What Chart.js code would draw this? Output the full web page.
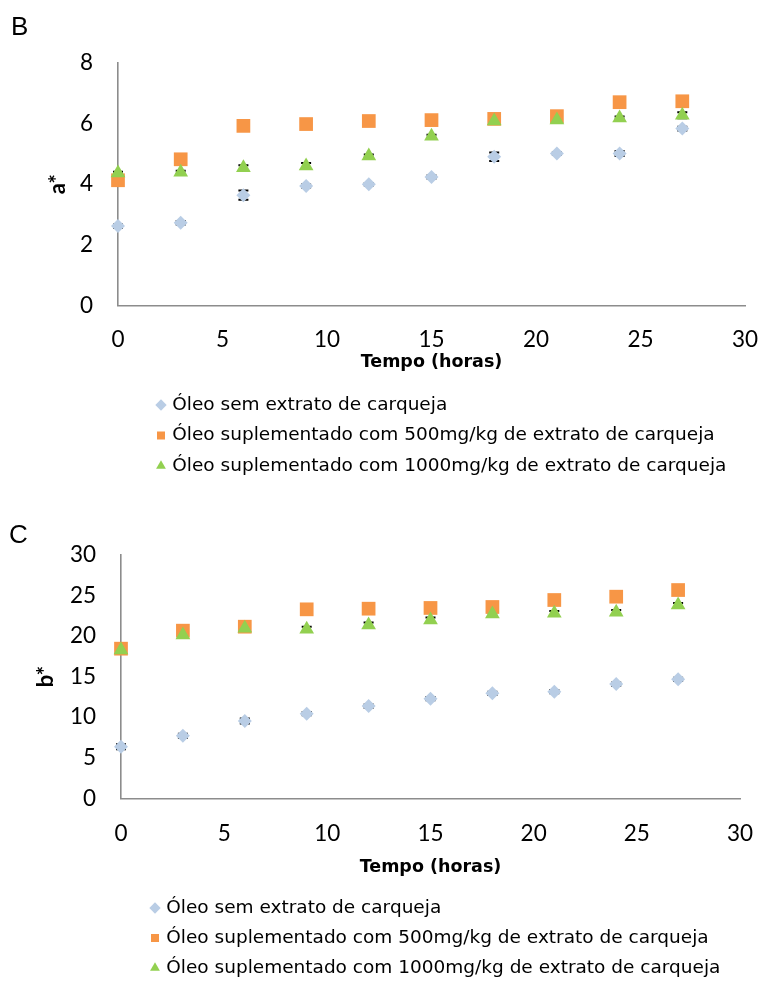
<!DOCTYPE html>
<html>
<head>
<meta charset="utf-8">
<script src="https://cdn.jsdelivr.net/npm/chart.js@4.4.1/dist/chart.umd.min.js"></script>
<style>
  html, body { margin: 0; padding: 0; background: #ffffff; }
  #wrap { position: relative; width: 762px; height: 981px; overflow: hidden; background: #ffffff; }
  canvas { position: absolute; left: 0; }
  #c1 { top: 0; }
  #c2 { top: 478px; }
</style>
</head>
<body>
<div id="wrap">
  <canvas id="c1" width="762" height="490"></canvas>
  <canvas id="c2" width="762" height="503"></canvas>
</div>
<script>
// ---------- data ----------
const hours = [0, 3, 6, 9, 12, 15, 18, 21, 24, 27];
const seriesNames = [
  'Óleo sem extrato de carqueja',
  'Óleo suplementado com 500mg/kg de extrato de carqueja',
  'Óleo suplementado com 1000mg/kg de extrato de carqueja'
];
// Panel B : a*
const aSem   = [2.62, 2.73, 3.64, 3.94, 4.00, 4.24, 4.90, 5.01, 5.01, 5.83];
const a500   = [4.13, 4.82, 5.92, 5.98, 6.08, 6.11, 6.15, 6.24, 6.70, 6.73];
const a1000  = [4.37, 4.39, 4.54, 4.60, 4.93, 5.58, 6.08, 6.11, 6.18, 6.27];
const aSemErr  = [0.05, 0.06, 0.15, 0.05, 0.04, 0.05, 0.14, 0.04, 0.08, 0.06];
const a500Err  = [0.05, 0.05, 0.05, 0.05, 0.05, 0.05, 0.05, 0.05, 0.05, 0.05];
const a1000Err = [0.04, 0.05, 0.08, 0.10, 0.05, 0.05, 0.03, 0.03, 0.05, 0.10];
// Panel C : b*
const bSem   = [6.36, 7.72, 9.53, 10.43, 11.38, 12.28, 12.94, 13.15, 14.09, 14.67];
const b500   = [18.45, 20.67, 21.16, 23.30, 23.38, 23.47, 23.59, 24.45, 24.86, 25.68];
const b1000  = [18.29, 20.14, 20.96, 20.85, 21.37, 21.98, 22.72, 22.81, 22.93, 23.84];
const bSemErr  = [0.30, 0.25, 0.30, 0.20, 0.20, 0.20, 0.20, 0.20, 0.20, 0.20];
const b500Err  = [0.20, 0.20, 0.20, 0.20, 0.20, 0.20, 0.20, 0.20, 0.20, 0.20];
const b1000Err = [0.20, 0.20, 0.25, 0.30, 0.30, 0.30, 0.20, 0.30, 0.30, 0.25];
// ticks
const xTicks = [0, 5, 10, 15, 20, 25, 30];
const aTicks = [0, 2, 4, 6, 8];
const bTicks = [0, 5, 10, 15, 20, 25, 30];

// ---------- styles ----------
const COL_BLUE = '#B9CDE5';
const COL_ORANGE = '#F79646';
const COL_GREEN = '#92D050';
const AXIS_COL = '#8C8C8C';

function pts(ys) { return hours.map((h, i) => ({ x: h, y: ys[i] })); }

// error bars drawn through the chart's scales
const errorBars = {
  id: 'errorBars',
  beforeDatasetsDraw(chart) {
    const ctx = chart.ctx;
    const xs = chart.scales.x, ys = chart.scales.y;
    ctx.save();
    ctx.strokeStyle = '#000000';
    ctx.lineWidth = 2;
    chart.data.datasets.forEach(ds => {
      if (!ds.errors) return;
      ds.data.forEach((p, i) => {
        const e = ds.errors[i];
        const px = xs.getPixelForValue(p.x);
        const y1 = ys.getPixelForValue(p.y + e);
        const y2 = ys.getPixelForValue(p.y - e);
        ctx.beginPath();
        ctx.moveTo(px, y1); ctx.lineTo(px, y2);
        ctx.moveTo(px - 5, y1); ctx.lineTo(px + 5, y1);
        ctx.moveTo(px - 5, y2); ctx.lineTo(px + 5, y2);
        ctx.stroke();
      });
    });
    ctx.restore();
  }
};

// shift the legend block horizontally inside the plot width
const legendOffset = {
  id: 'legendOffset',
  afterLayout(chart, args, opts) {
    if (chart.legend) chart.legend.left += (opts.x || 0);
  }
};

function makeChart(id, cfg) {
  const datasets = [
    { label: seriesNames[0], data: pts(cfg.s0), errors: cfg.e0, pointStyle: 'rectRot', pointRadius: 7,
      backgroundColor: COL_BLUE, pointBackgroundColor: COL_BLUE, borderWidth: 0, pointBorderWidth: 0, order: 2, clip: false },
    { label: seriesNames[1], data: pts(cfg.s1), errors: cfg.e1, pointStyle: 'rect', pointRadius: 9.7,
      backgroundColor: COL_ORANGE, pointBackgroundColor: COL_ORANGE, borderWidth: 0, pointBorderWidth: 0, order: 1, clip: false },
    { label: seriesNames[2], data: pts(cfg.s2), errors: cfg.e2, pointStyle: 'triangle', pointRadius: 8.5,
      backgroundColor: COL_GREEN, pointBackgroundColor: COL_GREEN, borderWidth: 0, pointBorderWidth: 0, order: 0, clip: false }
  ];
  return new Chart(document.getElementById(id), {
    type: 'scatter',
    data: { datasets },
    plugins: [errorBars, legendOffset],
    options: {
      responsive: false,
      animation: false,
      devicePixelRatio: 1,
      events: [],
      layout: { padding: cfg.pad },
      plugins: {
        tooltip: { enabled: false },
        legendOffset: { x: cfg.legendShift },
        title: {
          display: true,
          text: cfg.panel,
          align: 'start',
          color: '#000000',
          font: { family: 'Liberation Sans, Arial, sans-serif', size: 26, weight: 'normal', lineHeight: 1.2 },
          padding: cfg.panelPad
        },
        legend: {
          display: true,
          position: 'bottom',
          align: 'start',
          fullSize: false,
          maxHeight: cfg.legendMaxH,
          labels: {
            usePointStyle: true,
            boxWidth: 4,
            boxHeight: 8,
            padding: cfg.legendPad,
            color: '#000000',
            font: { family: 'DejaVu Sans, sans-serif', size: 18.5, lineHeight: 1.2 },
            sort: (a, b) => a.datasetIndex - b.datasetIndex
          }
        }
      },
      scales: {
        x: {
          type: 'linear',
          min: 0, max: 30,
          afterBuildTicks: s => { s.ticks = xTicks.map(v => ({ value: v })); },
          afterFit: s => { s.height = cfg.xHeight; s.paddingLeft = 0; s.paddingRight = 0; },
          grid: { display: false, drawTicks: false },
          border: { display: true, color: AXIS_COL, width: 1.6 },
          ticks: {
            color: '#000000',
            padding: cfg.xTickPad,
            maxRotation: 0,
            autoSkip: false,
            font: { family: 'Lato, sans-serif', size: 22.5, lineHeight: 1.0 }
          },
          title: {
            display: true,
            text: 'Tempo (horas)',
            color: '#000000',
            font: { family: 'DejaVu Sans, sans-serif', size: 17.5, weight: 'bold', lineHeight: 1.2 },
            padding: cfg.xTitlePad
          }
        },
        y: {
          type: 'linear',
          min: cfg.yTicks[0], max: cfg.yTicks[cfg.yTicks.length - 1],
          afterBuildTicks: s => { s.ticks = cfg.yTicks.map(v => ({ value: v })); },
          afterFit: s => { s.width = cfg.yWidth; },
          grid: { display: false, drawTicks: false },
          border: { display: true, color: AXIS_COL, width: 1.6 },
          ticks: {
            color: '#000000',
            padding: 25,
            autoSkip: false,
            font: { family: 'Lato, sans-serif', size: 22.5, lineHeight: 1.0 }
          },
          title: {
            display: true,
            text: cfg.yLabel,
            color: '#000000',
            font: { family: 'Lato, sans-serif', size: 22, weight: 'bold', lineHeight: 1.2 },
            padding: { top: cfg.yTitlePad, bottom: 0 }
          }
        }
      }
    }
  });
}

makeChart('c1', {
  panel: 'B', yLabel: 'a*', yTicks: aTicks,
  s0: aSem, s1: a500, s2: a1000, e0: aSemErr, e1: a500Err, e2: a1000Err,
  pad: { left: 11, right: 17, top: 0, bottom: 4.75 },
  panelPad: { top: 11.9, bottom: 19.6 },
  yWidth: 107, yTitlePad: 34.1,
  xHeight: 78.05, xTickPad: 22.5, xTitlePad: { top: 0, bottom: 11.25 },
  legendPad: 12, legendMaxH: 200, legendShift: 29
});

makeChart('c2', {
  panel: 'C', yLabel: 'b*', yTicks: bTicks,
  s0: bSem, s1: b500, s2: b1000, e0: bSemErr, e1: b500Err, e2: b1000Err,
  pad: { left: 9, right: 22, top: 0, bottom: 1.75 },
  panelPad: { top: 42.2, bottom: 3.6 },
  yWidth: 112, yTitlePad: 23.6,
  xHeight: 88.95, xTickPad: 24.65, xTitlePad: { top: 0, bottom: 9.25 },
  legendPad: 11.5, legendMaxH: 92, legendShift: 20.5
});
</script>
</body>
</html>
